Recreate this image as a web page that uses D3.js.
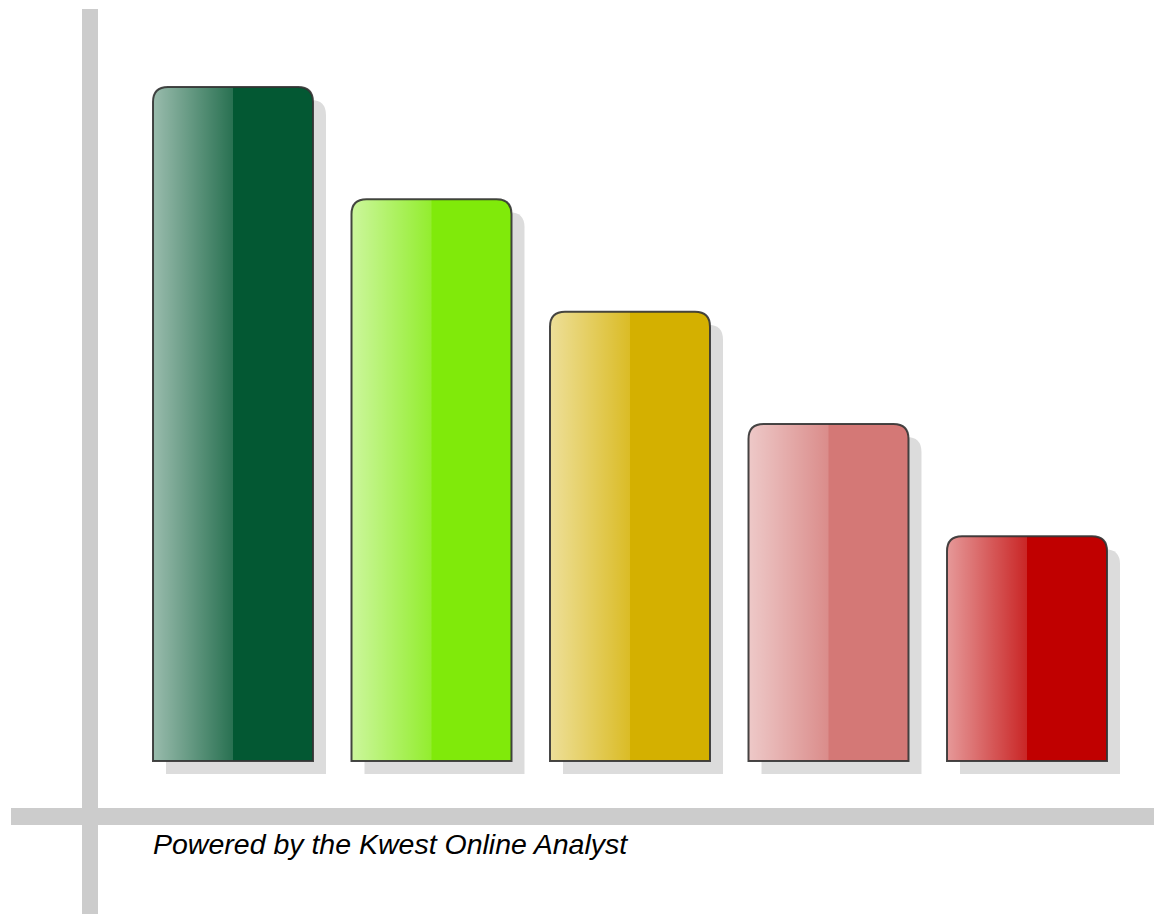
<!DOCTYPE html>
<html><head><meta charset="utf-8">
<script src="https://cdn.jsdelivr.net/npm/d3@7"></script>
<style>html,body{margin:0;padding:0;background:#fff;}svg{display:block;}</style>
</head><body>
<script>
const categories = ["A", "B", "C", "D", "E"];
const values = [6, 5, 4, 3, 2];
const colors = ["#035833", "#80ea0a", "#d4b000", "#d47876", "#c00000"];
const footer = "Powered by the Kwest Online Analyst";

const W = 1154, H = 914;
const svg = d3.select("body").append("svg").attr("width", W).attr("height", H);

const x = d3.scaleBand().domain(categories).range([153, 1107]).paddingInner(0.194).paddingOuter(0);
const y = d3.scaleLinear().domain([0, 6]).range([761, 87]);

const defs = svg.append("defs");
const g = defs.append("linearGradient").attr("id", "shine").attr("x1", 0).attr("x2", 1).attr("y1", 0).attr("y2", 0);
g.append("stop").attr("offset", "0%").attr("stop-color", "#fff").attr("stop-opacity", 0.6);
g.append("stop").attr("offset", "100%").attr("stop-color", "#fff").attr("stop-opacity", 0.15);

// gray axes
svg.append("rect").attr("x", 82).attr("y", 9).attr("width", 16).attr("height", H - 9).attr("fill", "#cccccc");
svg.append("rect").attr("x", 11).attr("y", 808).attr("width", W - 11).attr("height", 17).attr("fill", "#cccccc");

function topRounded(x0, y0, w, h, r) {
  return `M${x0},${y0 + h} L${x0},${y0 + r} Q${x0},${y0} ${x0 + r},${y0} L${x0 + w - r},${y0} Q${x0 + w},${y0} ${x0 + w},${y0 + r} L${x0 + w},${y0 + h} Z`;
}
const R = 15;

const bars = svg.append("g").selectAll("g").data(categories).join("g");
bars.append("path")
  .attr("d", (d, i) => topRounded(x(d) + 13, y(values[i]) + 13, x.bandwidth(), y(0) - y(values[i]), R))
  .attr("fill", "#dcdcdc");
bars.append("path")
  .attr("d", (d, i) => topRounded(x(d), y(values[i]), x.bandwidth(), y(0) - y(values[i]), R))
  .attr("fill", (d, i) => colors[i]);
bars.append("clipPath").attr("id", (d, i) => "clip" + i)
  .append("path")
  .attr("d", (d, i) => topRounded(x(d), y(values[i]), x.bandwidth(), y(0) - y(values[i]), R));
bars.append("rect")
  .attr("clip-path", (d, i) => `url(#clip${i})`)
  .attr("x", d => x(d)).attr("y", (d, i) => y(values[i]))
  .attr("width", x.bandwidth() / 2).attr("height", (d, i) => y(0) - y(values[i]))
  .attr("fill", "url(#shine)");
bars.append("path")
  .attr("d", (d, i) => topRounded(x(d), y(values[i]), x.bandwidth(), y(0) - y(values[i]), R))
  .attr("fill", "none").attr("stroke", "#333").attr("stroke-width", 2).attr("stroke-opacity", 0.9);

svg.append("text").attr("x", 153).attr("y", 854)
  .attr("font-family", "Liberation Sans, Arial, sans-serif").attr("font-style", "italic")
  .attr("font-size", 28.5).attr("fill", "#000").text(footer);
</script>
</body></html>
